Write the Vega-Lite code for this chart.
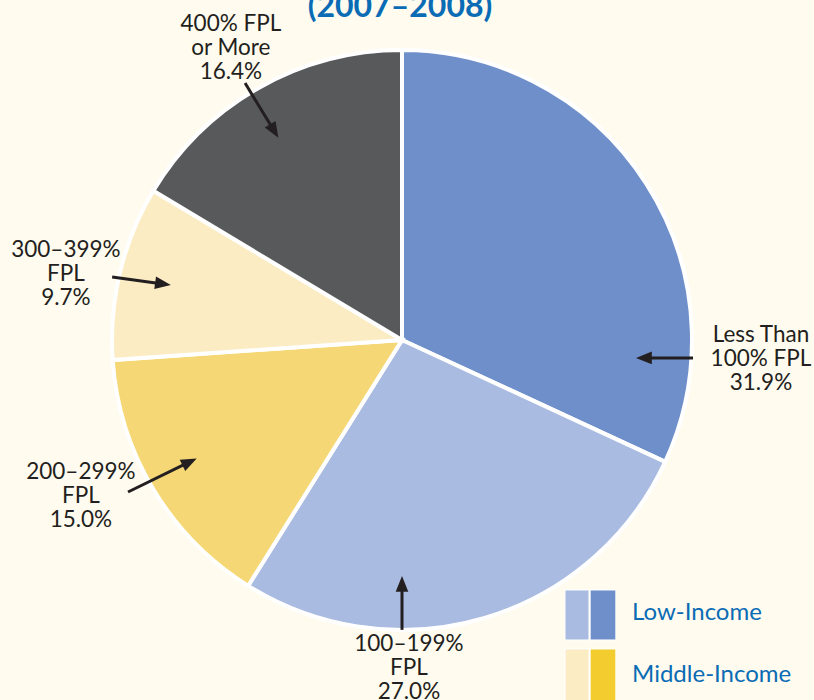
{
  "$schema": "https://vega.github.io/schema/vega-lite/v6.json",
  "width": 802,
  "height": 680,
  "autosize": "none",
  "padding": {"left": 1, "top": 0, "right": 11, "bottom": 20},
  "background": "#fffbee",
  "config": {"view": {"stroke": null}, "font": "Lato"},
  "datasets": {
    "slices": [
      {"cat": "Less Than 100% FPL", "pct": 31.9, "ord": 1},
      {"cat": "100–199% FPL", "pct": 27.0, "ord": 2},
      {"cat": "200–299% FPL", "pct": 15.0, "ord": 3},
      {"cat": "300–399% FPL", "pct": 9.7, "ord": 4},
      {"cat": "400% FPL or More", "pct": 16.4, "ord": 5}
    ],
    "labels": [
      {"label": "400% FPL\nor More\n16.4%", "x": -0.592, "y": 1.095},
      {"label": "300–399%\nFPL\n9.7%", "x": -1.163, "y": 0.311},
      {"label": "200–299%\nFPL\n15.0%", "x": -1.111, "y": -0.457},
      {"label": "Less Than\n100% FPL\n31.9%", "x": 1.242, "y": 0.016},
      {"label": "100–199%\nFPL\n27.0%", "x": 0.024, "y": -1.052}
    ],
    "arrows": [
      {"x": -0.543, "y": 0.889, "x2": -0.442, "y2": 0.723, "ang": 148.6},
      {"x": -1.003, "y": 0.218, "x2": -0.827, "y2": 0.194, "ang": 97.9},
      {"x": -0.948, "y": -0.526, "x2": -0.735, "y2": -0.422, "ang": 64.1},
      {"x": 1.007, "y": -0.062, "x2": 0.837, "y2": -0.062, "ang": 270},
      {"x": 0.0, "y": -1.003, "x2": 0.0, "y2": -0.844, "ang": 0}
    ],
    "swatches": [
      {"cat": "100–199% FPL", "x": 0.564, "x2": 0.647, "y": -0.865, "y2": -1.038},
      {"cat": "Less Than 100% FPL", "x": 0.651, "x2": 0.740, "y": -0.865, "y2": -1.038},
      {"cat": "300–399% FPL", "x": 0.564, "x2": 0.647, "y": -1.069, "y2": -1.30},
      {"cat": "Middle-Income (dark)", "x": 0.651, "x2": 0.740, "y": -1.069, "y2": -1.30}
    ],
    "legendText": [
      {"label": "Low-Income", "x": 0.796, "y": -0.945},
      {"label": "Middle-Income", "x": 0.796, "y": -1.159}
    ],
    "title": [
      {"label": "(2007–2008)", "x": -0.007, "y": 1.118}
    ]
  },
  "resolve": {"scale": {"color": "shared"}},
  "layer": [
    {
      "data": {"name": "slices"},
      "mark": {"type": "arc", "outerRadius": 290, "stroke": "white", "strokeWidth": 4},
      "encoding": {
        "theta": {"field": "pct", "type": "quantitative", "stack": true},
        "order": {"field": "ord", "type": "quantitative"},
        "color": {
          "field": "cat", "type": "nominal", "legend": null,
          "scale": {
            "domain": ["Less Than 100% FPL", "100–199% FPL", "200–299% FPL", "300–399% FPL", "400% FPL or More", "Middle-Income (dark)"],
            "range": ["#6f8fca", "#a9bbe0", "#f5d875", "#fbecc4", "#58595b", "#f3cd2f"]
          }
        }
      }
    },
    {
      "data": {"name": "swatches"},
      "mark": {"type": "rect", "stroke": "white", "strokeWidth": 1},
      "encoding": {
        "x": {"field": "x", "type": "quantitative", "axis": null, "scale": {"domain": [-1.3875, 1.3875], "nice": false, "zero": false}},
        "x2": {"field": "x2"},
        "y": {"field": "y", "type": "quantitative", "axis": null, "scale": {"domain": [-1.1765, 1.1765], "nice": false, "zero": false}},
        "y2": {"field": "y2"},
        "color": {"field": "cat", "type": "nominal", "legend": null}
      }
    },
    {
      "data": {"name": "legendText"},
      "mark": {"type": "text", "align": "left", "baseline": "middle", "fontSize": 24, "color": "#0a6cb5"},
      "encoding": {
        "x": {"field": "x", "type": "quantitative"},
        "y": {"field": "y", "type": "quantitative"},
        "text": {"field": "label"}
      }
    },
    {
      "data": {"name": "arrows"},
      "mark": {"type": "rule", "strokeWidth": 3, "color": "#231f20"},
      "encoding": {
        "x": {"field": "x", "type": "quantitative"},
        "y": {"field": "y", "type": "quantitative"},
        "x2": {"field": "x2"},
        "y2": {"field": "y2"}
      }
    },
    {
      "data": {"name": "arrows"},
      "mark": {"type": "point", "shape": "M-0.4,0.5L0,-0.5L0.4,0.5Z", "filled": true, "size": 1000, "color": "#231f20", "opacity": 1},
      "encoding": {
        "x": {"field": "x2", "type": "quantitative"},
        "y": {"field": "y2", "type": "quantitative"},
        "angle": {"field": "ang", "type": "quantitative", "scale": null}
      }
    },
    {
      "data": {"name": "labels"},
      "mark": {"type": "text", "align": "center", "baseline": "middle", "fontSize": 22.5, "lineHeight": 24, "lineBreak": "\n", "color": "#231f20"},
      "encoding": {
        "x": {"field": "x", "type": "quantitative"},
        "y": {"field": "y", "type": "quantitative"},
        "text": {"field": "label"}
      }
    },
    {
      "data": {"name": "title"},
      "mark": {"type": "text", "align": "center", "baseline": "alphabetic", "fontSize": 32, "fontWeight": "bold", "color": "#0a6cb5"},
      "encoding": {
        "x": {"field": "x", "type": "quantitative"},
        "y": {"field": "y", "type": "quantitative"},
        "text": {"field": "label"}
      }
    }
  ]
}
